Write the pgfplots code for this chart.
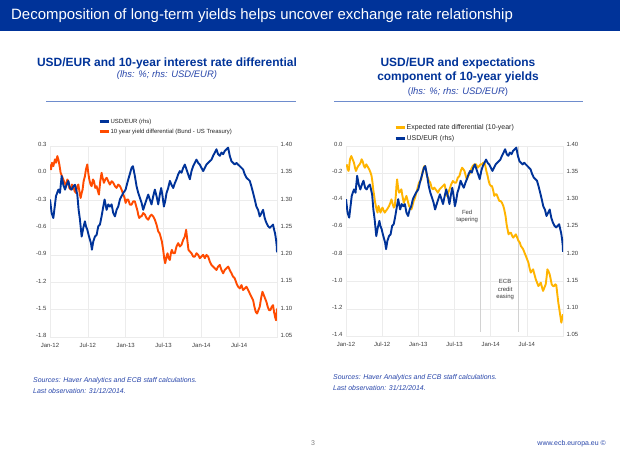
\documentclass[border=0pt]{standalone}
\usepackage{pgfplots}
\pgfplotsset{compat=1.18}
\usepackage{pgfplotstable}
\usepackage{fontspec}
\setmainfont{Liberation Sans}

\definecolor{ecbblue}{RGB}{0,51,153}
\definecolor{ecborange}{RGB}{255,75,0}
\definecolor{ecbyellow}{RGB}{255,180,0}
\definecolor{rulecol}{RGB}{110,140,205}
\definecolor{srcblue}{RGB}{40,70,170}
\definecolor{gridgray}{RGB}{236,236,236}
\definecolor{ticktext}{RGB}{60,60,60}
\definecolor{eventgray}{RGB}{210,210,210}

% x = months since Jan 2012
\pgfplotstableread{
m v
0.00 1.302
0.26 1.277
0.53 1.268
0.95 1.308
1.32 1.320
1.58 1.314
1.85 1.345
2.11 1.329
2.38 1.320
2.64 1.329
2.90 1.336
3.17 1.323
3.43 1.320
3.70 1.326
3.96 1.329
4.33 1.311
4.54 1.283
4.75 1.265
5.02 1.234
5.28 1.250
5.54 1.262
5.70 1.253
5.91 1.247
6.12 1.237
6.34 1.228
6.49 1.222
6.65 1.210
6.86 1.225
7.13 1.234
7.39 1.237
7.66 1.253
7.92 1.256
8.18 1.271
8.45 1.289
8.66 1.302
8.98 1.283
9.24 1.293
9.50 1.289
9.77 1.293
10.03 1.277
10.30 1.271
10.56 1.283
10.82 1.289
11.09 1.302
11.35 1.308
11.62 1.314
11.99 1.320
12.25 1.332
12.57 1.345
12.94 1.360
13.15 1.363
13.46 1.345
13.73 1.326
13.99 1.314
14.26 1.305
14.52 1.296
14.78 1.283
15.05 1.293
15.31 1.302
15.58 1.311
15.84 1.302
16.10 1.293
16.37 1.308
16.63 1.320
16.90 1.308
17.16 1.293
17.42 1.311
17.63 1.323
17.85 1.308
18.06 1.289
18.27 1.299
18.48 1.314
18.74 1.323
19.01 1.336
19.27 1.329
19.54 1.323
19.80 1.332
20.06 1.339
20.33 1.348
20.59 1.354
20.86 1.351
21.12 1.360
21.38 1.366
21.65 1.357
21.91 1.348
22.18 1.339
22.44 1.354
22.70 1.363
22.97 1.369
23.23 1.375
23.50 1.369
23.76 1.366
24.02 1.360
24.29 1.354
24.55 1.360
24.82 1.366
25.08 1.369
25.34 1.372
25.61 1.375
25.87 1.382
26.14 1.388
26.40 1.394
26.66 1.385
26.93 1.382
27.19 1.388
27.46 1.385
27.72 1.391
27.98 1.394
28.25 1.397
28.51 1.382
28.78 1.372
29.04 1.369
29.30 1.366
29.57 1.369
29.83 1.366
30.10 1.363
30.36 1.360
30.62 1.357
30.89 1.348
31.15 1.342
31.42 1.339
31.68 1.336
31.94 1.326
32.21 1.314
32.47 1.302
32.73 1.289
33.00 1.283
33.26 1.271
33.53 1.277
33.79 1.283
34.05 1.268
34.32 1.259
34.58 1.253
34.85 1.250
35.11 1.253
35.37 1.256
35.53 1.247
35.69 1.240
35.85 1.228
35.96 1.216
36.00 1.205
}\usdeur

\pgfplotstableread{
m v
0.00 0.097
0.16 0.042
0.32 0.116
0.53 0.079
0.79 0.153
0.95 0.116
1.16 0.189
1.32 0.153
1.48 0.097
1.69 0.005
1.90 -0.032
2.11 -0.068
2.32 -0.105
2.53 -0.142
2.75 -0.068
2.90 -0.087
3.06 -0.161
3.27 -0.179
3.48 -0.124
3.70 -0.142
3.91 -0.197
4.12 -0.216
4.33 -0.142
4.49 -0.124
4.70 -0.216
4.86 -0.271
5.02 -0.216
5.17 -0.179
5.33 -0.087
5.54 -0.032
5.70 0.042
5.91 0.097
6.07 0.005
6.23 -0.068
6.44 -0.124
6.60 -0.142
6.81 -0.068
6.97 -0.087
7.18 -0.161
7.39 -0.142
7.60 -0.197
7.76 -0.234
7.97 -0.087
8.18 0.005
8.34 -0.050
8.55 -0.105
8.76 -0.068
8.98 -0.050
9.24 -0.087
9.50 -0.124
9.77 -0.087
10.03 -0.105
10.30 -0.142
10.56 -0.161
10.82 -0.124
11.09 -0.142
11.35 -0.179
11.62 -0.234
11.83 -0.271
11.99 -0.326
12.20 -0.289
12.41 -0.289
12.67 -0.345
12.94 -0.345
13.20 -0.308
13.46 -0.308
13.67 -0.363
13.83 -0.400
13.99 -0.455
14.15 -0.492
14.36 -0.474
14.52 -0.474
14.78 -0.437
15.05 -0.455
15.31 -0.492
15.58 -0.511
15.84 -0.474
16.10 -0.455
16.37 -0.474
16.63 -0.511
16.90 -0.566
17.16 -0.639
17.37 -0.658
17.53 -0.695
17.74 -0.750
17.95 -0.842
18.11 -0.934
18.27 -0.989
18.48 -0.916
18.64 -0.879
18.80 -0.934
19.01 -0.953
19.17 -0.879
19.32 -0.842
19.54 -0.879
19.80 -0.879
20.06 -0.805
20.33 -0.768
20.59 -0.805
20.86 -0.787
21.12 -0.732
21.38 -0.695
21.59 -0.621
21.80 -0.750
21.96 -0.842
22.18 -0.860
22.44 -0.879
22.70 -0.916
22.97 -0.916
23.23 -0.879
23.50 -0.897
23.76 -0.934
24.02 -0.916
24.29 -0.897
24.55 -0.934
24.82 -0.897
25.08 -0.916
25.34 -0.971
25.61 -1.008
25.87 -1.026
26.14 -1.045
26.40 -1.063
26.66 -1.026
26.93 -1.008
27.19 -1.063
27.46 -1.100
27.72 -1.063
27.98 -1.045
28.25 -1.026
28.51 -1.063
28.78 -1.100
29.04 -1.137
29.30 -1.155
29.57 -1.210
29.83 -1.247
30.10 -1.266
30.36 -1.229
30.62 -1.284
30.89 -1.266
31.15 -1.247
31.42 -1.284
31.68 -1.321
31.94 -1.358
32.21 -1.395
32.42 -1.468
32.63 -1.524
32.84 -1.542
33.05 -1.505
33.26 -1.468
33.47 -1.376
33.69 -1.303
33.90 -1.339
34.11 -1.376
34.32 -1.413
34.53 -1.468
34.74 -1.505
34.95 -1.505
35.16 -1.468
35.37 -1.450
35.53 -1.524
35.69 -1.579
35.85 -1.616
36.00 -1.487
}\yielddiff

\pgfplotstableread{
m v
0.11 -0.135
0.28 -0.172
0.44 -0.184
0.66 -0.098
0.88 -0.074
1.10 -0.098
1.32 -0.123
1.49 -0.160
1.65 -0.184
1.87 -0.160
2.04 -0.147
2.26 -0.135
2.42 -0.123
2.59 -0.098
2.75 -0.111
2.97 -0.147
3.14 -0.160
3.36 -0.135
3.52 -0.147
3.69 -0.160
3.85 -0.172
4.07 -0.196
4.24 -0.221
4.40 -0.270
4.51 -0.319
4.68 -0.368
4.79 -0.405
4.95 -0.442
5.06 -0.467
5.23 -0.491
5.39 -0.442
5.56 -0.467
5.72 -0.491
5.89 -0.467
6.05 -0.454
6.27 -0.479
6.44 -0.491
6.60 -0.479
6.82 -0.467
6.99 -0.454
7.15 -0.442
7.37 -0.418
7.54 -0.393
7.76 -0.430
7.93 -0.454
8.09 -0.442
8.26 -0.368
8.37 -0.295
8.48 -0.246
8.64 -0.307
8.81 -0.344
9.03 -0.332
9.19 -0.319
9.36 -0.368
9.58 -0.418
9.80 -0.393
10.02 -0.368
10.24 -0.405
10.46 -0.442
10.68 -0.454
10.84 -0.467
11.01 -0.442
11.23 -0.405
11.45 -0.381
11.67 -0.344
11.89 -0.307
12.11 -0.270
12.33 -0.258
12.49 -0.246
12.66 -0.196
12.88 -0.160
13.04 -0.147
13.21 -0.172
13.43 -0.221
13.59 -0.233
13.76 -0.258
13.98 -0.270
14.20 -0.307
14.42 -0.319
14.64 -0.307
14.86 -0.319
15.08 -0.332
15.24 -0.344
15.52 -0.319
15.80 -0.307
16.07 -0.295
16.35 -0.282
16.51 -0.319
16.73 -0.368
16.95 -0.344
17.17 -0.319
17.45 -0.282
17.72 -0.258
18.00 -0.270
18.27 -0.270
18.55 -0.233
18.82 -0.221
19.04 -0.184
19.26 -0.160
19.48 -0.172
19.65 -0.184
19.87 -0.221
20.03 -0.246
20.25 -0.221
20.47 -0.209
20.75 -0.172
21.02 -0.147
21.30 -0.135
21.57 -0.135
21.85 -0.160
22.12 -0.147
22.34 -0.135
22.56 -0.135
22.78 -0.123
22.95 -0.123
23.12 -0.147
23.28 -0.184
23.50 -0.221
23.67 -0.258
23.83 -0.282
24.05 -0.295
24.22 -0.295
24.44 -0.332
24.60 -0.368
24.77 -0.356
24.99 -0.356
25.21 -0.381
25.43 -0.405
25.65 -0.405
25.87 -0.418
26.09 -0.442
26.25 -0.467
26.47 -0.516
26.64 -0.577
26.80 -0.614
26.97 -0.651
27.19 -0.639
27.35 -0.639
27.57 -0.663
27.74 -0.675
27.96 -0.663
28.18 -0.651
28.40 -0.675
28.62 -0.700
28.84 -0.712
29.00 -0.737
29.22 -0.749
29.39 -0.761
29.61 -0.786
29.83 -0.810
30.05 -0.835
30.27 -0.860
30.43 -0.896
30.65 -0.933
30.82 -0.921
31.04 -0.909
31.26 -0.946
31.48 -0.982
31.70 -1.007
31.92 -1.032
32.14 -1.019
32.31 -1.007
32.53 -1.044
32.69 -1.068
32.91 -1.044
33.13 -1.019
33.30 -0.958
33.41 -0.909
33.57 -0.921
33.79 -0.946
33.96 -0.982
34.12 -1.019
34.34 -1.032
34.51 -1.032
34.73 -1.019
34.89 -1.027
35.06 -1.093
35.22 -1.154
35.39 -1.203
35.56 -1.253
35.72 -1.302
35.89 -1.265
36.00 -1.240
}\expdiff

\pgfplotsset{
  ecbbase/.style={
    scale only axis,
    xmin=0, xmax=36,
    major tick length=0pt,
    tick label style={font=\fontsize{6}{7}\selectfont, text=ticktext},
    yticklabel style={yshift=1.5bp},
    xticklabel style={yshift=-2.5bp},
    axis line style={draw=gridgray, line width=0.6bp},
    /pgf/number format/assume math mode=true,
    /pgf/number format/fixed,
    /pgf/number format/fixed zerofill,
  },
  ecblhs/.style={
    ecbbase,
    xtick={0,6,12,18,24,30},
    xticklabels={Jan-12,Jul-12,Jan-13,Jul-13,Jan-14,Jul-14},
    grid=major, major grid style={draw=gridgray, line width=0.6bp},
    /pgf/number format/precision=1,
  },
  ecbrhs/.style={
    ecbbase,
    axis x line=none,
    axis y line*=right,
    ymin=1.05, ymax=1.40,
    ytick={1.05,1.10,1.15,1.20,1.25,1.30,1.35,1.40},
    /pgf/number format/precision=2,
  },
  ecbline/.style={line width=1.9bp, line join=round},
  legend image code/.code={\draw[#1, line width=3bp] (0bp,0bp) -- (9bp,0bp);},
}

\begin{document}
\begin{tikzpicture}[x=1bp, y=1bp]
\fill[white] (0,0) rectangle (620,465);
\path[use as bounding box] (0,0) rectangle (620,465);

% header
\fill[ecbblue] (0,434) rectangle (620,465);
\node[anchor=west, text=white, font=\fontsize{15}{18}\selectfont, inner sep=0pt] at (11,449.5) {Decomposition of long-term yields helps uncover exchange rate relationship};

% chart titles
\node[text=ecbblue, font=\bfseries\fontsize{12}{14}\selectfont, inner sep=0pt] at (167,402) {USD/EUR and 10-year interest rate differential};
\node[text=srcblue, font=\itshape\fontsize{9.5}{12}\selectfont, inner sep=0pt] at (167,390) {(lhs: \%; rhs: USD/EUR)};
\draw[rulecol, line width=0.8bp] (46,364) -- (296,364);

\node[text=ecbblue, font=\bfseries\fontsize{12}{14}\selectfont, inner sep=0pt] at (458,402) {USD/EUR and expectations};
\node[text=ecbblue, font=\bfseries\fontsize{12}{14}\selectfont, inner sep=0pt] at (458,388) {component of 10-year yields};
\node[text=srcblue, font=\fontsize{9.5}{12}\selectfont, inner sep=0pt] at (458,373) {(\textit{lhs: \%; rhs: USD/EUR})};
\draw[rulecol, line width=0.8bp] (334,364) -- (583,364);

% left chart
\begin{axis}[ecblhs, at={(50bp,128bp)}, anchor=south west, width=227bp, height=191bp,
  ymin=-1.8, ymax=0.3, ytick={-1.8,-1.5,-1.2,-0.9,-0.6,-0.3,0,0.3}]
\addplot[ecbline, ecborange] table[x=m, y=v] {\yielddiff};
\end{axis}
\begin{axis}[ecbrhs, at={(50bp,128bp)}, anchor=south west, width=227bp, height=191bp,
  legend style={at={(0.198,1.155)}, anchor=north west, draw=none, fill=none,
    font=\fontsize{6}{7}\selectfont, text=black!85, row sep=3.4bp,
    nodes={inner sep=0.5bp, text height=4.4bp, text depth=1.2bp}},
  legend cell align=left]
\addplot[ecbline, ecbblue] table[x=m, y=v] {\usdeur};
\addlegendentry{USD/EUR (rhs)}
\addlegendimage{ecborange}
\addlegendentry{10 year yield differential (Bund - US Treasury)}
\end{axis}

% right chart
\begin{axis}[ecblhs, at={(346bp,129bp)}, anchor=south west, width=217bp, height=190bp,
  ymin=-1.4, ymax=0, ytick={-1.4,-1.2,-1.0,-0.8,-0.6,-0.4,-0.2,0}]
\addplot[eventgray, line width=0.8bp] coordinates {(22.25,0) (22.25,-1.37)};
\addplot[eventgray, line width=0.8bp] coordinates {(28.6,0) (28.6,-1.37)};
\addplot[ecbline, ecbyellow] table[x=m, y=v] {\expdiff};
\node[font=\fontsize{6}{7.5}\selectfont, text=ticktext, align=center] at (axis cs:20.1,-0.52) {Fed\\tapering};
\node[font=\fontsize{6}{7.5}\selectfont, text=ticktext, align=center] at (axis cs:26.4,-1.06) {ECB\\credit\\easing};
\end{axis}
\begin{axis}[ecbrhs, at={(346bp,129bp)}, anchor=south west, width=217bp, height=190bp,
  legend style={at={(0.207,1.13)}, anchor=north west, draw=none, fill=none,
    font=\fontsize{7}{8}\selectfont, text=black!85, row sep=3.6bp,
    nodes={inner sep=0.5bp, text height=5.2bp, text depth=1.4bp}},
  legend cell align=left]
\addlegendimage{ecbyellow}
\addlegendentry{Expected rate differential (10-year)}
\addplot[ecbline, ecbblue] table[x=m, y=v] {\usdeur};
\addlegendentry{USD/EUR (rhs)}
\end{axis}

% sources and footer
\node[anchor=base west, text=srcblue, font=\itshape\fontsize{7}{8}\selectfont, inner sep=0pt] at (33,82.5) {Sources: Haver Analytics and ECB staff calculations.};
\node[anchor=base west, text=srcblue, font=\itshape\fontsize{7}{8}\selectfont, inner sep=0pt] at (33,71.5) {Last observation: 31/12/2014.};
\node[anchor=base west, text=srcblue, font=\itshape\fontsize{7}{8}\selectfont, inner sep=0pt] at (333,85.5) {Sources: Haver Analytics and ECB staff calculations.};
\node[anchor=base west, text=srcblue, font=\itshape\fontsize{7}{8}\selectfont, inner sep=0pt] at (333,74.5) {Last observation: 31/12/2014.};
\node[anchor=base, text=gray, font=\fontsize{7}{8}\selectfont, inner sep=0pt] at (313,19.5) {3};
\node[anchor=base east, text=srcblue, font=\fontsize{7}{8}\selectfont, inner sep=0pt] at (606,19.5) {www.ecb.europa.eu \copyright};
\end{tikzpicture}
\end{document}
